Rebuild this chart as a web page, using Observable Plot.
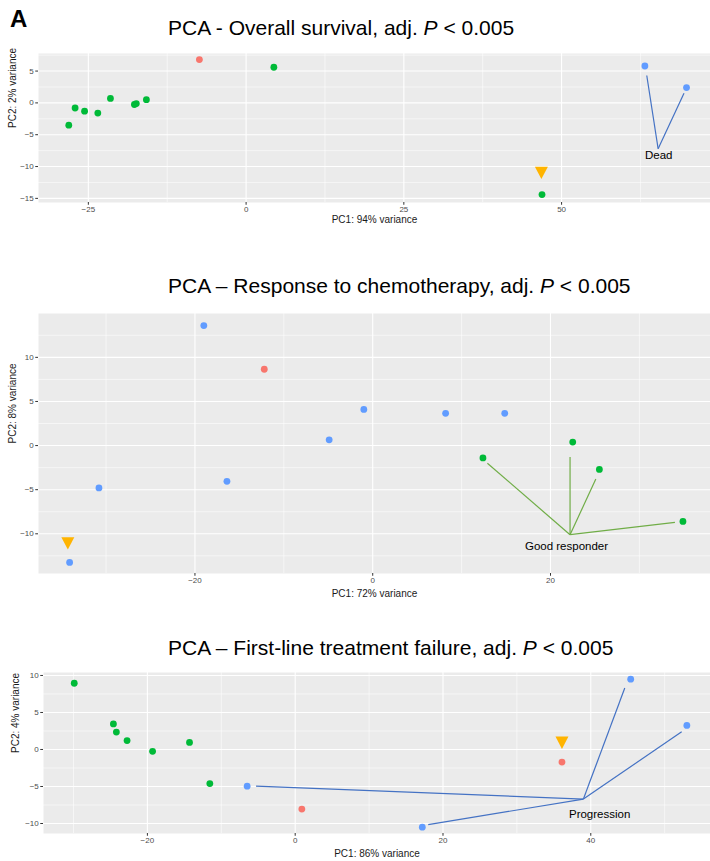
<!DOCTYPE html>
<html>
<head>
<meta charset="utf-8">
<script src="https://cdn.jsdelivr.net/npm/d3@7"></script>
<script src="https://cdn.jsdelivr.net/npm/@observablehq/plot@0.6"></script>
<style>
  html, body { margin: 0; padding: 0; background: #fff; }
  #fig { position: relative; width: 710px; height: 861px; overflow: hidden; font-family: "Liberation Sans", Arial, sans-serif; }
  .ttl { position: absolute; left: 168px; font-size: 21px; line-height: 21px; color: #000; white-space: nowrap; }
  .panel { position: absolute; left: 0; }
  #lbl { position: absolute; left: 10px; top: 7px; font-size: 24px; line-height: 24px; font-weight: bold; }
</style>
</head>
<body>
<div id="fig">
  <div id="lbl">A</div>
  <div class="ttl" style="top:17px">PCA - Overall survival, adj. <i>P</i> &lt; 0.005</div>
  <div class="ttl" style="top:275px">PCA – Response to chemotherapy, adj. <i>P</i> &lt; 0.005</div>
  <div class="ttl" style="top:637px">PCA – First-line treatment failure, adj. <i>P</i> &lt; 0.005</div>
  <div class="panel" id="p1" style="top:40px"></div>
  <div class="panel" id="p2" style="top:300px"></div>
  <div class="panel" id="p3" style="top:660px"></div>
</div>
<script>
// ---------- Panel 1: Overall survival ----------
const osPC1 = [-28.1, -27.1, -25.6, -23.5, -21.5, -17.7, -17.4, -15.8, 4.4, 46.9, -7.4, 63.2, 69.8];
const osPC2 = [-3.5, -0.8, -1.3, -1.6, 0.7, -0.25, -0.1, 0.5, 5.6, -14.4, 6.8, 5.8, 2.4];
const osGroup = ["g2","g2","g2","g2","g2","g2","g2","g2","g2","g2","g1","g3","g3"];
const osMarkerPC1 = [46.8];
const osMarkerPC2 = [-10.95];
const osHub = [65.3, -7.2];
const osEndPC1 = [63.5, 69.4];
const osEndPC2 = [4.3, 1.5];
const osLabel = {text: "Dead", pc1: 65.4, pc2: -8.3};
const osXTicks = [-25, 0, 25, 50];
const osXMinor = [-12.5, 12.5, 37.5, 62.5];
const osYTicks = [-15, -10, -5, 0, 5];
const osYMinor = [-12.5, -7.5, -2.5, 2.5, 7.5];

// ---------- Panel 2: Response to chemotherapy ----------
const rcPC1 = [-19.0, -12.2, -1.0, 8.2, 14.85, -4.9, -16.4, -30.8, -34.1, 12.4, 22.5, 25.5, 34.9];
const rcPC2 = [13.6, 8.65, 4.1, 3.65, 3.65, 0.65, -4.05, -4.8, -13.25, -1.4, 0.4, -2.7, -8.6];
const rcGroup = ["g3","g1","g3","g3","g3","g3","g3","g3","g3","g2","g2","g2","g2"];
const rcMarkerPC1 = [-34.3];
const rcMarkerPC2 = [-11.05];
const rcHub = [22.2, -10.1];
const rcEndPC1 = [12.9, 22.2, 25.1, 34.0];
const rcEndPC2 = [-2.0, -1.3, -3.8, -8.7];
const rcLabel = {text: "Good responder", pc1: 21.8, pc2: -11.45};
const rcXTicks = [-20, 0, 20];
const rcXMinor = [-30, -10, 10, 30];
const rcYTicks = [-10, -5, 0, 5, 10];
const rcYMinor = [-12.5, -7.5, -2.5, 2.5, 7.5, 12.5];

// ---------- Panel 3: First-line treatment failure ----------
const flPC1 = [-29.9, -24.6, -24.2, -22.75, -19.3, -14.3, -11.55, -6.5, 0.9, 17.2, 36.1, 45.4, 53.0];
const flPC2 = [8.95, 3.45, 2.35, 1.2, -0.25, 0.95, -4.6, -4.95, -8.05, -10.5, -1.7, 9.5, 3.25];
const flGroup = ["g2","g2","g2","g2","g2","g2","g2","g3","g1","g3","g1","g3","g3"];
const flMarkerPC1 = [36.1];
const flMarkerPC2 = [0.96];
const flHub = [39.0, -6.7];
const flEndPC1 = [-5.3, 18.0, 44.6, 52.3];
const flEndPC2 = [-4.95, -10.15, 8.3, 2.4];
const flLabel = {text: "Progression", pc1: 41.2, pc2: -8.7};
const flXTicks = [-20, 0, 20, 40];
const flXMinor = [-30, -10, 10, 30, 50];
const flYTicks = [-10, -5, 0, 5, 10];
const flYMinor = [-7.5, -2.5, 2.5, 7.5];

const groupDomain = ["g1", "g2", "g3"];
const groupColors = ["#F8766D", "#00BA38", "#619CFF"];

const triangleDown = {
  draw(context, size) {
    const r = Math.sqrt(size / Math.PI);
    context.moveTo(-r, -0.9 * r);
    context.lineTo(r, -0.9 * r);
    context.lineTo(0, r);
    context.closePath();
  }
};

function panel(cfg) {
  const pts = cfg.pc1.map((v, i) => ({pc1: v, pc2: cfg.pc2[i], group: cfg.group[i]}));
  const links = cfg.endPC1.map((v, i) => ({x1: cfg.hub[0], y1: cfg.hub[1], x2: v, y2: cfg.endPC2[i]}));
  const marker = cfg.mPC1.map((v, i) => ({pc1: v, pc2: cfg.mPC2[i]}));
  const frameTop = cfg.marginTop, frameBottom = cfg.height - cfg.marginBottom;
  return Plot.plot({
    width: 710,
    height: cfg.height,
    marginLeft: cfg.marginLeft,
    marginRight: 0,
    marginTop: cfg.marginTop,
    marginBottom: cfg.marginBottom,
    style: {fontFamily: "'Liberation Sans', Arial, sans-serif", background: "transparent", overflow: "visible"},
    x: {domain: cfg.xDomain},
    y: {domain: cfg.yDomain},
    color: {domain: groupDomain, range: groupColors},
    marks: [
      Plot.frame({fill: "#EBEBEB", stroke: "none"}),
      Plot.gridX(cfg.xMinor, {stroke: "#fff", strokeOpacity: 1, strokeWidth: 0.55}),
      Plot.gridY(cfg.yMinor, {stroke: "#fff", strokeOpacity: 1, strokeWidth: 0.55}),
      Plot.gridX(cfg.xTicks, {stroke: "#fff", strokeOpacity: 1, strokeWidth: 1.1}),
      Plot.gridY(cfg.yTicks, {stroke: "#fff", strokeOpacity: 1, strokeWidth: 1.1}),
      Plot.axisX(cfg.xTicks, {tickSize: 2.75, tickPadding: 1.5, stroke: "#333", fill: "#4D4D4D", fontSize: 8, label: null}),
      Plot.axisY(cfg.yTicks, {tickSize: 2.75, tickPadding: 2, stroke: "#333", fill: "#4D4D4D", fontSize: 8, label: null}),
      Plot.text([cfg.xTitle], {frameAnchor: "bottom", dy: cfg.xTitleDy, text: d => d, fontSize: 10, fill: "#1A1A1A", lineAnchor: "middle"}),
      Plot.text([cfg.yTitle], {frameAnchor: "left", dx: cfg.yTitleDx, rotate: -90, text: d => d, fontSize: 10, fill: "#1A1A1A", lineAnchor: "middle"}),
      Plot.link(links, {x1: "x1", y1: "y1", x2: "x2", y2: "y2", stroke: cfg.linkColor, strokeWidth: 1.2}),
      Plot.dot(pts, {x: "pc1", y: "pc2", fill: "group", r: 3.4, stroke: "none"}),
      Plot.dot(marker, {x: "pc1", y: "pc2", fill: "#FFB400", symbol: triangleDown, r: 6.5, stroke: "none"}),
      Plot.text([cfg.label], {x: "pc1", y: "pc2", text: "text", fontSize: 11.5, fill: "#000", lineAnchor: "middle"})
    ]
  });
}

document.getElementById("p1").append(panel({
  height: 192, marginTop: 13, marginBottom: 30, marginLeft: 38,
  xDomain: [-32.9, 73.6], yDomain: [-15.65, 7.76],
  pc1: osPC1, pc2: osPC2, group: osGroup, mPC1: osMarkerPC1, mPC2: osMarkerPC2,
  hub: osHub, endPC1: osEndPC1, endPC2: osEndPC2, label: osLabel, linkColor: "#4472C4",
  xTicks: osXTicks, xMinor: osXMinor, yTicks: osYTicks, yMinor: osYMinor,
  xTitle: "PC1: 94% variance", yTitle: "PC2: 2% variance", xTitleDy: 17, yTitleDx: -26
}));

document.getElementById("p2").append(panel({
  height: 300, marginTop: 13, marginBottom: 27, marginLeft: 38,
  xDomain: [-37.6, 38.0], yDomain: [-14.5, 14.97],
  pc1: rcPC1, pc2: rcPC2, group: rcGroup, mPC1: rcMarkerPC1, mPC2: rcMarkerPC2,
  hub: rcHub, endPC1: rcEndPC1, endPC2: rcEndPC2, label: rcLabel, linkColor: "#70AD47",
  xTicks: rcXTicks, xMinor: rcXMinor, yTicks: rcYTicks, yMinor: rcYMinor,
  xTitle: "PC1: 72% variance", yTitle: "PC2: 8% variance", xTitleDy: 20, yTitleDx: -26
}));

document.getElementById("p3").append(panel({
  height: 201, marginTop: 12, marginBottom: 28, marginLeft: 43,
  xDomain: [-34.06, 56.2], yDomain: [-11.35, 10.4],
  pc1: flPC1, pc2: flPC2, group: flGroup, mPC1: flMarkerPC1, mPC2: flMarkerPC2,
  hub: flHub, endPC1: flEndPC1, endPC2: flEndPC2, label: flLabel, linkColor: "#4472C4",
  xTicks: flXTicks, xMinor: flXMinor, yTicks: flYTicks, yMinor: flYMinor,
  xTitle: "PC1: 86% variance", yTitle: "PC2: 4% variance", xTitleDy: 20, yTitleDx: -28
}));
</script>
</body>
</html>
